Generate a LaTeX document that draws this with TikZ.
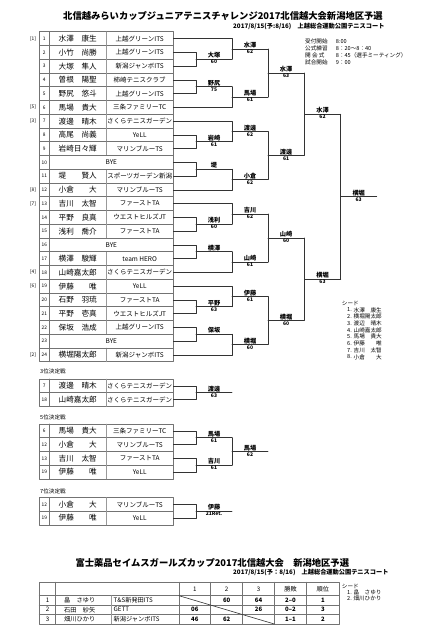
\documentclass[tikz,border=0pt]{standalone}
\usepackage{fontspec}
\setmainfont{Noto Sans CJK JP}

\tikzset{
  tbl/.style={draw=black!55, line width=0.8pt},
  sep/.style={draw=black!40, line width=0.5pt},
  brk/.style={draw=black!80, line width=0.6pt},
  num/.style={inner sep=0pt, font=\fontsize{4.8}{5}\selectfont},
  nm/.style={inner sep=0pt, font=\fontsize{7.6}{8}\selectfont},
  club/.style={inner sep=0pt, font=\fontsize{6.5}{7}\selectfont},
  win/.style={above=0.4pt, inner sep=0pt, font=\bfseries\fontsize{6.2}{7}\selectfont},
  scr/.style={below=0.6pt, inner sep=0pt, font=\bfseries\fontsize{5}{6}\selectfont},
  small/.style={inner sep=0pt, anchor=west, font=\fontsize{5.6}{6}\selectfont},
  ttl/.style={inner sep=0pt, font=\bfseries\fontsize{9.3}{11}\selectfont},
  sub/.style={inner sep=0pt, anchor=west, font=\bfseries\fontsize{6.2}{7}\selectfont},
  cell/.style={inner sep=0pt, font=\fontsize{6.2}{7}\selectfont},
  pts/.style={cell, font=\bfseries\fontsize{6}{7}\selectfont},
}

% one player row of a draw table
\newcommand\prow[5]{%
  \draw[tbl] (39.3,{#1-6.875}) rectangle (173.3,{#1+6.875});
  \draw[tbl] (49.3,{#1-6.875}) -- (49.3,{#1+6.875});
  \draw[sep] (106,{#1-6.875}) -- (106,{#1+6.875});
  \node[num] (#5k) at (44.3,#1) {#2};
  \node[nm] (#5n) at (77.7,#1) {#3};
  \node[club] (#5c) at (139.7,#1) {#4};
  \coordinate (#5) at (173.3,#1);
}
\newcommand\byerow[3]{%
  \draw[tbl] (39.3,{#1-6.875}) rectangle (173.3,{#1+6.875});
  \draw[tbl] (49.3,{#1-6.875}) -- (49.3,{#1+6.875});
  \node[num] (#3k) at (44.3,#1) {#2};
  \node[club] (#3n) at (111.3,#1) {BYE};
  \coordinate (#3) at (173.3,#1);
}
% one match: out, top, bottom, bar x, end x, winner, score
\newcommand\bout[7]{%
  \draw[brk] (#2) -- (#2 -| #4) -- (#3 -| #4) -- (#3);
  \path (#2 -| #4) -- coordinate (#1b) (#3 -| #4);
  \draw[brk] (#1b) -- node[win] (#1w) {#6} node[scr] (#1s) {#7} (#1b -| #5) coordinate (#1);
}

\begin{document}
\begin{tikzpicture}[x=1pt, y=-1pt, line join=round, line cap=round]
\fill[white] (0,0) rectangle (439,637);
\path[use as bounding box] (0,0) rectangle (439,637);

\coordinate (X1) at (196,0);
\coordinate (X2) at (232,0);
\coordinate (X3) at (268,0);
\coordinate (X4) at (304.3,0);
\coordinate (X5) at (340.7,0);
\coordinate (X6) at (376.7,0);

\node[ttl] (title) at (223,16) {北信越みらいカップジュニアテニスチャレンジ2017北信越大会新潟地区予選};
\node[sub] (place) at (233,26.7) {2017/8/15(予:8/16)　上越総合運動公園テニスコート};

\foreach \k/\lab/\tim in {0/受付開始/8:00, 1/公式練習/8：20～8：40, 2/開 会 式/8：45（選手ミーティング）, 3/試合開始/9：00}{
  \node[small] (lab\k) at (305,{41.7+7*\k}) {\lab};
  \node[small] (tim\k) at (335.7,{41.7+7*\k}) {\tim};
}

\foreach \i/\who/\clb in {1/水澤　康生/上越グリーンITS, 2/小竹　尚勝/上越グリーンITS,
    3/大塚　隼人/新潟ジャンボITS, 4/曽根　陽聖/柿崎テニスクラブ, 5/野尻　悠斗/上越グリーンITS,
    6/馬場　貴大/三条ファミリーTC, 7/渡邊　晴木/さくらテニスガーデン, 8/高尾　尚義/YeLL,
    9/岩崎日々輝/マリンブルーTS, 11/堤　　賢人/スポーツガーデン新潟, 12/小倉　　大/マリンブルーTS,
    13/吉川　太智/ファーストTA, 14/平野　良真/ウエストヒルズJT, 15/浅利　喬介/ファーストTA,
    17/横澤　駿輝/team HERO, 18/山崎嘉太郎/さくらテニスガーデン, 19/伊藤　　唯/YeLL,
    20/石野　羽琉/ファーストTA, 21/平野　壱真/ウエストヒルズJT, 22/保坂　浩成/上越グリーンITS,
    24/横堀陽太郎/新潟ジャンボITS}{
  \pgfmathsetmacro\yy{24.875+13.75*\i}
  \prow{\yy}{\i}{\who}{\clb}{e\i}
}
\foreach \i in {10,16,23}{
  \pgfmathsetmacro\yy{24.875+13.75*\i}
  \byerow{\yy}{\i}{e\i}
}
\foreach \i/\s in {1/1, 6/5, 7/3, 12/8, 13/7, 18/4, 19/6, 24/2}{
  \node[num] (seed\i) at (33,{24.875+13.75*\i}) {[\s]};
}

\bout{m23}{e2}{e3}{X1}{X2}{大塚}{60}
\bout{m45}{e4}{e5}{X1}{X2}{野尻}{75}
\bout{m89}{e8}{e9}{X1}{X2}{岩崎}{61}
\bout{m1011}{e10}{e11}{X1}{X2}{堤}{}
\bout{m1415}{e14}{e15}{X1}{X2}{浅利}{60}
\bout{m1617}{e16}{e17}{X1}{X2}{横澤}{}
\bout{m2021}{e20}{e21}{X1}{X2}{平野}{63}
\bout{m2223}{e22}{e23}{X1}{X2}{保坂}{}

\bout{qa}{e1}{m23}{X2}{X3}{水澤}{62}
\bout{qb}{m45}{e6}{X2}{X3}{馬場}{61}
\bout{qc}{e7}{m89}{X2}{X3}{渡邊}{62}
\bout{qd}{m1011}{e12}{X2}{X3}{小倉}{62}
\bout{qe}{e13}{m1415}{X2}{X3}{吉川}{62}
\bout{qf}{m1617}{e18}{X2}{X3}{山崎}{61}
\bout{qg}{e19}{m2021}{X2}{X3}{伊藤}{61}
\bout{qh}{m2223}{e24}{X2}{X3}{横堀}{60}

\bout{ra}{qa}{qb}{X3}{X4}{水澤}{63}
\bout{rb}{qc}{qd}{X3}{X4}{渡邊}{61}
\bout{rc}{qe}{qf}{X3}{X4}{山崎}{60}
\bout{rd}{qg}{qh}{X3}{X4}{横堀}{60}

\bout{ta}{ra}{rb}{X4}{X5}{水澤}{62}
\bout{tb}{rc}{rd}{X4}{X5}{横堀}{63}
\bout{fin}{ta}{tb}{X5}{X6}{横堀}{63}

\node[small] (seedhd) at (341.7,303.3) {シード};
\foreach \k/\who in {1/水澤　康生, 2/横堀陽太郎, 3/渡辺　晴木, 4/山崎嘉太郎,
    5/馬場　貴大, 6/伊藤　　唯, 7/吉川　太智, 8/小倉　　大}{
  \node[small] (sk\k) at (347,{303.3+6.7*\k}) {\k.};
  \node[small] (sn\k) at (353.5,{303.3+6.7*\k}) {\who};
}

\node[small] (third) at (40,371.7) {3位決定戦};
\prow{385.9}{7}{渡邊　晴木}{さくらテニスガーデン}{p7}
\prow{399.6}{18}{山崎嘉太郎}{さくらテニスガーデン}{p18}
\bout{w3}{p7}{p18}{X1}{X2}{渡邊}{63}

\node[small] (fifth) at (40,417.3) {5位決定戦};
\prow{430.9}{6}{馬場　貴大}{三条ファミリーTC}{f6}
\prow{444.6}{12}{小倉　　大}{マリンブルーTS}{f12}
\prow{458.4}{13}{吉川　太智}{ファーストTA}{f13}
\prow{472.1}{19}{伊藤　　唯}{YeLL}{f19}
\bout{w5a}{f6}{f12}{X1}{X2}{馬場}{61}
\bout{w5b}{f13}{f19}{X1}{X2}{吉川}{61}
\bout{w5}{w5a}{w5b}{X2}{X3}{馬場}{62}

\node[small] (seventh) at (40,491) {7位決定戦};
\prow{504.4}{12}{小倉　　大}{マリンブルーTS}{s12}
\prow{518.1}{19}{伊藤　　唯}{YeLL}{s19}
\bout{w7}{s12}{s19}{X1}{X2}{伊藤}{21Ret.}

\node[ttl] (title2) at (212.3,563.3) {富士薬品セイムスガールズカップ2017北信越大会　新潟地区予選};
\node[sub] (place2) at (233,572.7) {2017/8/15(予：8/16)　上越総合運動公園テニスコート};

\draw[tbl] (39.3,582.3) rectangle (339,624);
\foreach \y in {595.7,605,614.3} \draw[tbl] (39.3,\y) -- (339,\y);
\foreach \x in {55.7,179,210.7,242.7,274.3,306.7} \draw[tbl] (\x,582.3) -- (\x,624);
\draw[sep] (111.7,595.7) -- (111.7,624);
\draw[brk] (179,595.7) -- (274.3,624);

\foreach \x/\t [count=\c] in {194.85/1, 226.7/2, 258.5/3, 290.5/勝敗, 322.85/順位}{
  \node[cell] (hd\c) at (\x,589) {\t};
}
\node[cell] (rk1) at (47.5,600.35) {1};
\node[cell] (rk2) at (47.5,609.65) {2};
\node[cell] (rk3) at (47.5,619.15) {3};
\node[cell, anchor=west] (rn1) at (64,600.35) {畠　さゆり};
\node[cell, anchor=west] (rn2) at (64,609.65) {石田　紗矢};
\node[cell, anchor=west] (rn3) at (64,619.15) {畑川ひかり};
\node[cell, anchor=west] (rc1) at (113.5,600.35) {T\&S新発田ITS};
\node[cell, anchor=west] (rc2) at (113.5,609.65) {GETT};
\node[cell, anchor=west] (rc3) at (113.5,619.15) {新潟ジャンボITS};
\node[pts] (g12) at (226.7,600.35) {60};
\node[pts] (g13) at (258.5,600.35) {64};
\node[pts] (wl1) at (290.5,600.35) {2–0};
\node[pts] (or1) at (322.85,600.35) {1};
\node[pts] (g21) at (194.85,609.65) {06};
\node[pts] (g23) at (258.5,609.65) {26};
\node[pts] (wl2) at (290.5,609.65) {0–2};
\node[pts] (or2) at (322.85,609.65) {3};
\node[pts] (g31) at (194.85,619.15) {46};
\node[pts] (g32) at (226.7,619.15) {62};
\node[pts] (wl3) at (290.5,619.15) {1–1};
\node[pts] (or3) at (322.85,619.15) {2};

\node[small] (seedhd2) at (341.7,586) {シード};
\node[small] (gs1) at (347,592) {1. 畠　さゆり};
\node[small] (gs2) at (347,598) {2. 畑川ひかり};
\end{tikzpicture}
\end{document}
